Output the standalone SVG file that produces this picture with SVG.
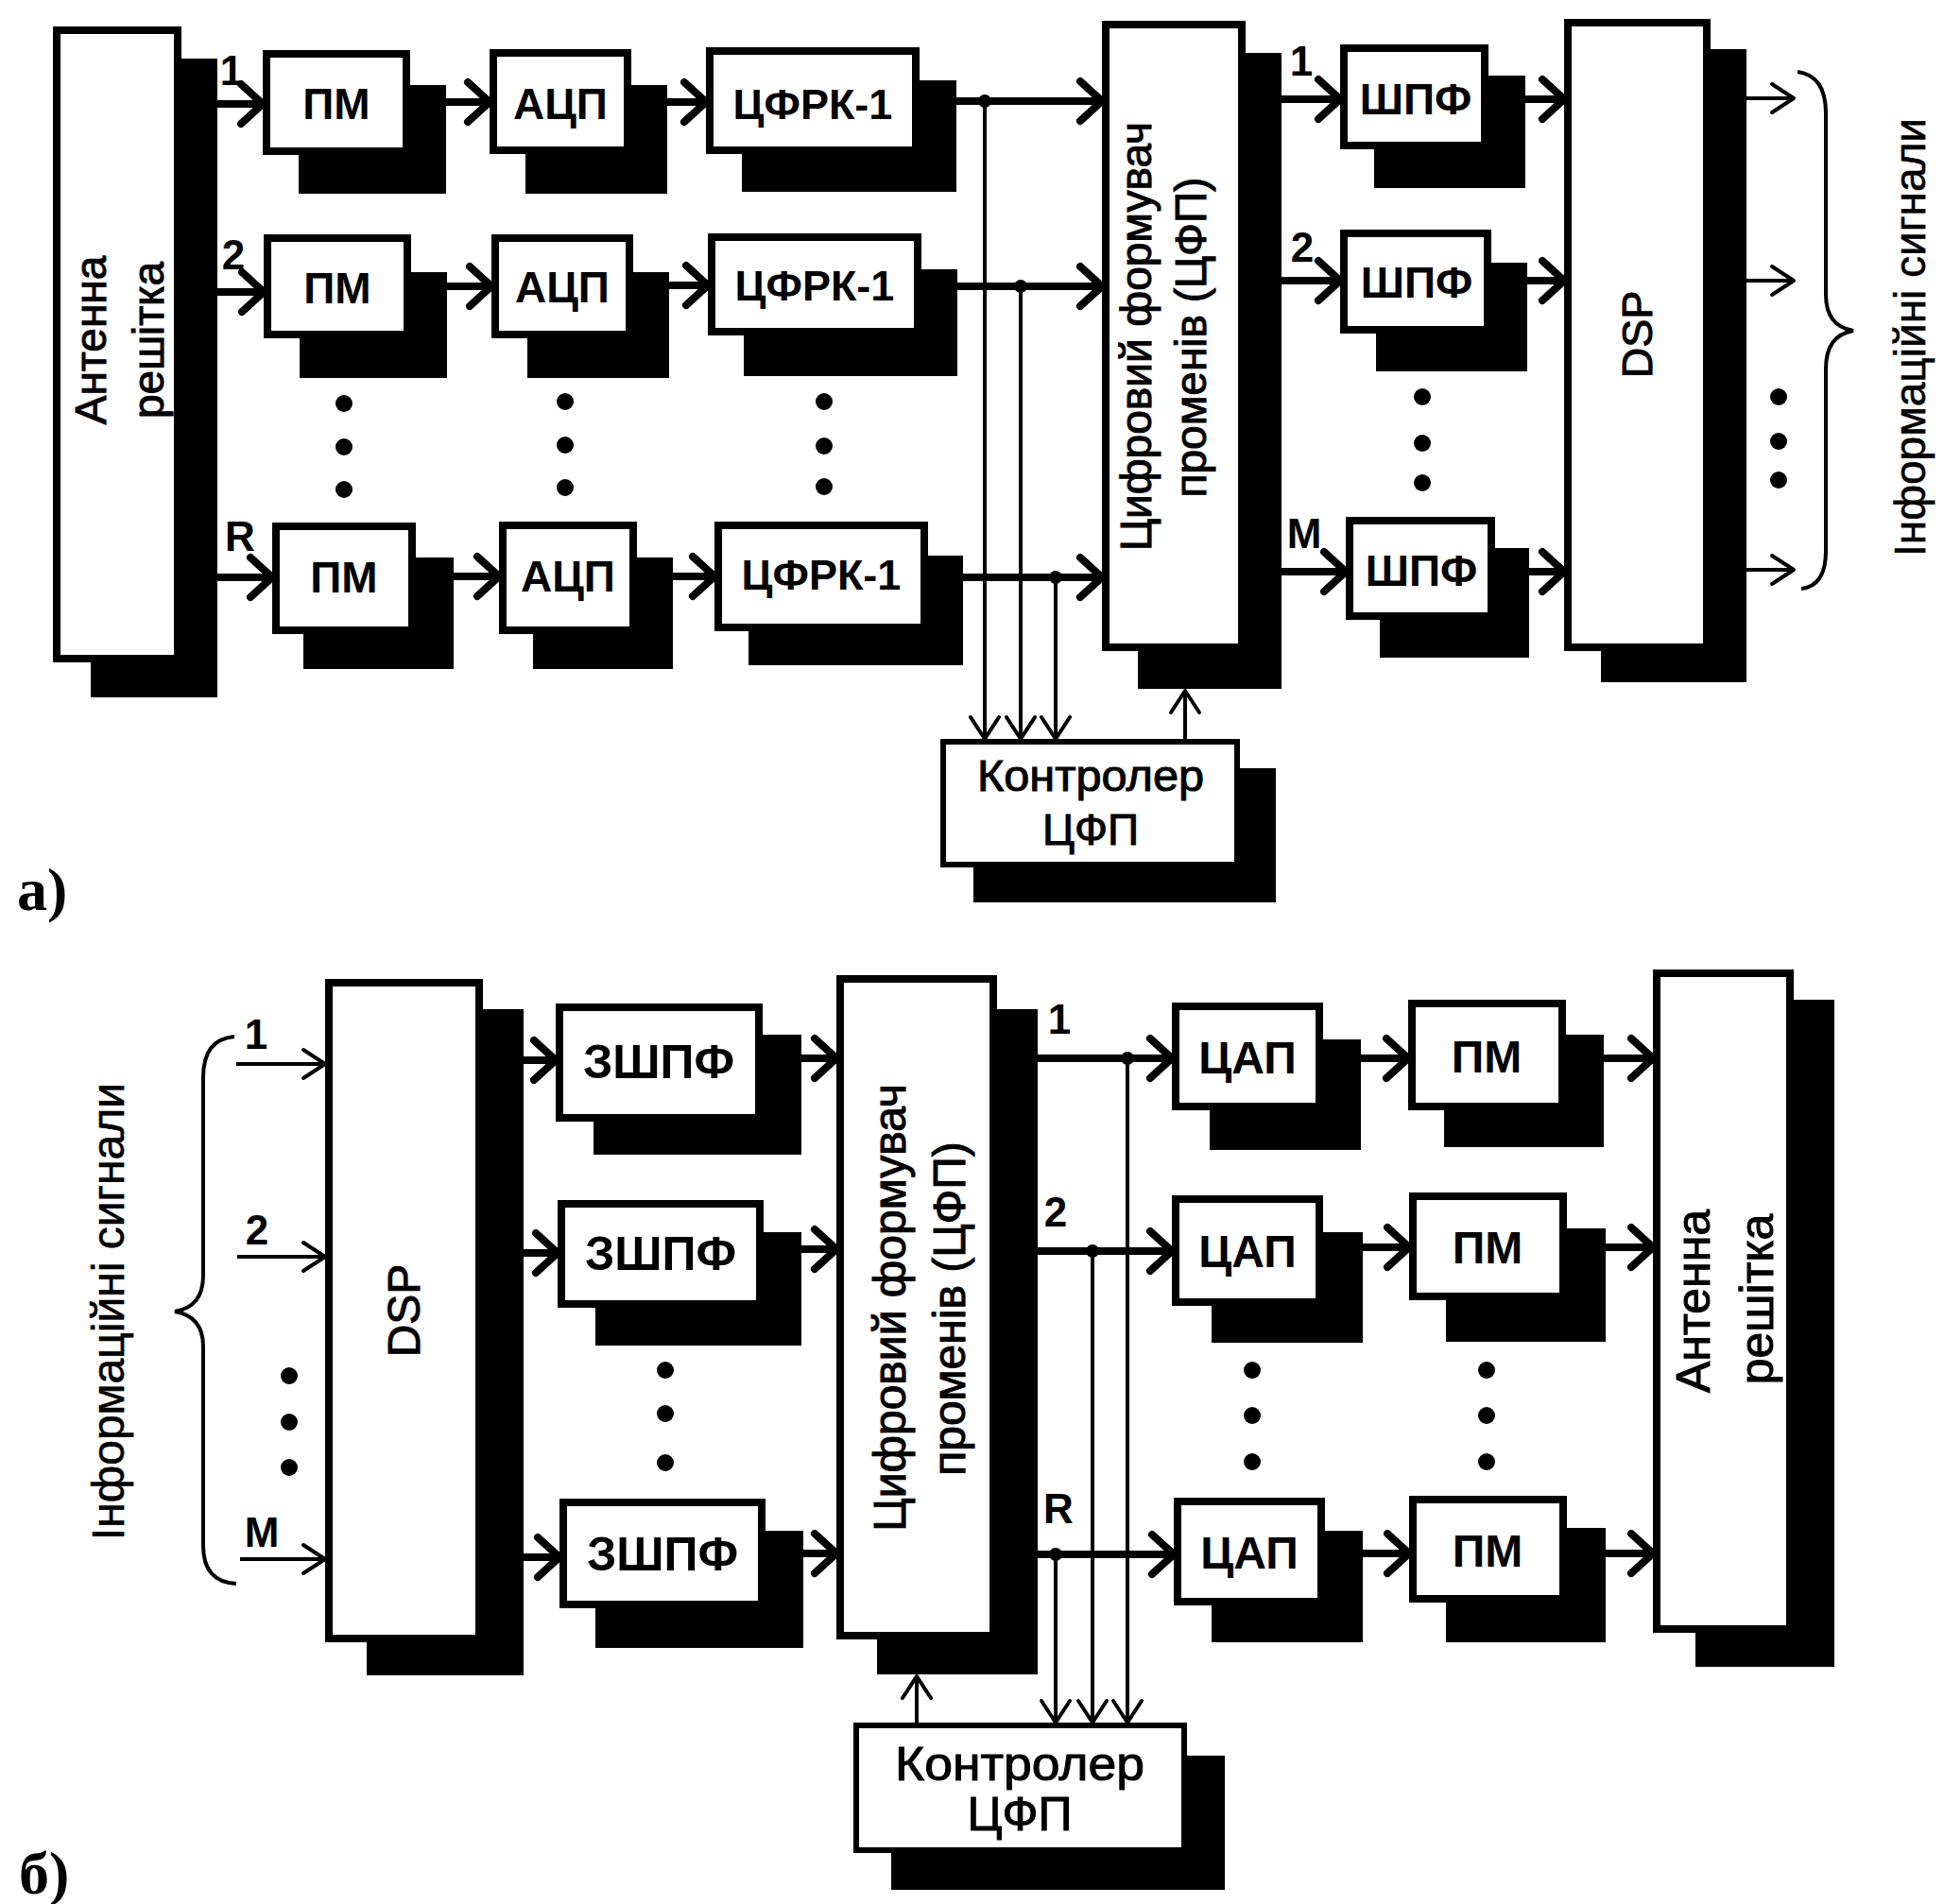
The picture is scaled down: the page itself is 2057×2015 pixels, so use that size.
<svg xmlns="http://www.w3.org/2000/svg" width="2057" height="2015" viewBox="0 0 2057 2015">
<defs>
<style>
.box{fill:#fff;stroke:#000;stroke-width:8}
.cbox{fill:#fff;stroke:#000;stroke-width:6}
.sh{fill:#000}
.thick{stroke:#000;stroke-width:8;fill:none}
.thin{stroke:#000;stroke-width:4;fill:none}
.brace{stroke:#000;stroke-width:4;fill:none}
.dot{fill:#000}
text{font-family:"Liberation Sans",Arial,sans-serif;fill:#000}
.b45{font-size:45px;font-weight:bold;text-anchor:middle}
.b46{font-size:46px;font-weight:bold;text-anchor:middle}
.b48{font-size:48px;font-weight:bold;text-anchor:middle}
.b50{font-size:50px;font-weight:bold;text-anchor:middle}
.n46{font-size:46px;text-anchor:middle;stroke:#000;stroke-width:1}
.n48{font-size:48px;text-anchor:middle;stroke:#000;stroke-width:1}
.n44{font-size:44px;text-anchor:middle;stroke:#000;stroke-width:1}
.num{font-size:44px;font-weight:bold;text-anchor:middle}
.fig{font-family:"Liberation Serif","Times New Roman",serif;font-size:64px;font-weight:bold}
</style>
<marker id="ah" markerUnits="userSpaceOnUse" markerWidth="50" markerHeight="60" viewBox="-40 -30 50 60" refX="0" refY="0" orient="auto" overflow="visible">
<path d="M-23,-21 L0,0 L-23,21" fill="none" stroke="#000" stroke-width="8" stroke-linejoin="round" stroke-linecap="round"/>
</marker>
<marker id="at" markerUnits="userSpaceOnUse" markerWidth="50" markerHeight="40" viewBox="-40 -20 50 40" refX="0" refY="0" orient="auto" overflow="visible">
<path d="M-23,-15 L0,0 L-23,15" fill="none" stroke="#000" stroke-width="4" stroke-linejoin="round" stroke-linecap="round"/>
</marker>
</defs>
<rect width="2057" height="2015" fill="#fff"/>

<!-- ===== Part a) ===== -->
<g id="a-antenna">
<rect class="sh" x="96" y="62" width="134" height="676"/>
<rect class="box" x="60" y="32" width="128" height="665"/>
<text class="n46" transform="translate(0,360) rotate(-90)" x="0" y="112">Антенна</text>
<text class="n46" transform="translate(0,360) rotate(-90)" x="0" y="173">решітка</text>
</g>
<g id="a-pm1"><rect class="sh" x="316" y="90" width="156" height="115"/><rect class="box" x="282" y="57" width="148" height="103"/><text class="b46" x="356" y="126">ПМ</text></g>
<g id="a-adc1"><rect class="sh" x="556" y="90" width="150" height="115"/><rect class="box" x="522" y="56" width="142" height="103"/><text class="b46" x="593" y="126">АЦП</text></g>
<g id="a-cfrk1"><rect class="sh" x="785" y="85" width="227" height="118"/><rect class="box" x="751" y="54" width="218" height="105"/><text class="b45" x="860" y="126">ЦФРК-1</text></g>
<g id="a-pm2"><rect class="sh" x="317" y="288" width="156" height="112"/><rect class="box" x="283" y="252" width="148" height="102"/><text class="b46" x="357" y="321">ПМ</text></g>
<g id="a-adc2"><rect class="sh" x="558" y="288" width="150" height="112"/><rect class="box" x="524" y="252" width="142" height="102"/><text class="b46" x="595" y="320">АЦП</text></g>
<g id="a-cfrk2"><rect class="sh" x="787" y="285" width="226" height="113"/><rect class="box" x="753" y="251" width="218" height="100"/><text class="b45" x="862" y="318">ЦФРК-1</text></g>
<g id="a-pmR"><rect class="sh" x="321" y="590" width="159" height="118"/><rect class="box" x="292" y="557" width="144" height="110"/><text class="b46" x="364" y="627">ПМ</text></g>
<g id="a-adcR"><rect class="sh" x="564" y="590" width="148" height="118"/><rect class="box" x="532" y="556" width="138" height="111"/><text class="b46" x="601" y="626">АЦП</text></g>
<g id="a-cfrkR"><rect class="sh" x="792" y="588" width="227" height="116"/><rect class="box" x="760" y="556" width="218" height="108"/><text class="b45" x="869" y="624">ЦФРК-1</text></g>

<g id="a-dfp">
<rect class="sh" x="1204" y="56" width="152" height="673"/>
<rect class="box" x="1170" y="26" width="144" height="659"/>
<text class="n46" transform="translate(0,356) rotate(-90)" x="0" y="1218">Цифровий формувач</text>
<text class="n46" transform="translate(0,357) rotate(-90)" x="0" y="1276">променів (ЦФП)</text>
</g>
<g id="a-shpf1"><rect class="sh" x="1454" y="80" width="160" height="119"/><rect class="box" x="1422" y="51" width="149" height="103"/><text class="b46" x="1498" y="121">ШПФ</text></g>
<g id="a-shpf2"><rect class="sh" x="1456" y="278" width="160" height="115"/><rect class="box" x="1422" y="247" width="152" height="102"/><text class="b46" x="1499" y="315">ШПФ</text></g>
<g id="a-shpfM"><rect class="sh" x="1460" y="580" width="158" height="116"/><rect class="box" x="1428" y="551" width="150" height="101"/><text class="b46" x="1504" y="620">ШПФ</text></g>
<g id="a-dsp">
<rect class="sh" x="1694" y="52" width="154" height="670"/>
<rect class="box" x="1659" y="24" width="147" height="661"/>
<text class="n46" transform="translate(0,354) rotate(-90)" x="0" y="1748" style="font-size:45px">DSP</text>
</g>
<g id="a-ctrl">
<rect class="sh" x="1030" y="813" width="320" height="142"/>
<rect class="cbox" x="998" y="785" width="311" height="130"/>
<text class="n46" x="1154" y="837" textLength="240" lengthAdjust="spacingAndGlyphs">Контролер</text>
<text class="n46" x="1154" y="894">ЦФП</text>
</g>
<g id="a-dots">
<circle class="dot" cx="364" cy="427" r="9"/><circle class="dot" cx="364" cy="473" r="9"/><circle class="dot" cx="364" cy="518" r="9"/>
<circle class="dot" cx="598" cy="425" r="9"/><circle class="dot" cx="598" cy="471" r="9"/><circle class="dot" cx="598" cy="516" r="9"/>
<circle class="dot" cx="872" cy="425" r="9"/><circle class="dot" cx="872" cy="472" r="9"/><circle class="dot" cx="872" cy="515" r="9"/>
<circle class="dot" cx="1505" cy="420" r="9"/><circle class="dot" cx="1505" cy="469" r="9"/><circle class="dot" cx="1505" cy="511" r="9"/>
<circle class="dot" cx="1882" cy="420" r="9"/><circle class="dot" cx="1882" cy="467" r="9"/><circle class="dot" cx="1882" cy="508" r="9"/>
</g>
<g id="a-labels">
<text class="num" x="245" y="90">1</text>
<text class="num" x="247" y="285">2</text>
<text class="num" x="254" y="583">R</text>
<text class="num" x="1377" y="80">1</text>
<text class="num" x="1378" y="277">2</text>
<text class="num" x="1380" y="580">M</text>
<text class="n46" transform="translate(0,357) rotate(-90)" x="0" y="2037" style="stroke-width:0.6">Інформаційні сигнали</text>
<text class="fig" x="18" y="963">a)</text>
</g>
<g id="a-connectors">
<line class="thick" x1="230" y1="110" x2="278" y2="110" marker-end="url(#ah)"/>
<line class="thick" x1="472" y1="108" x2="518" y2="108" marker-end="url(#ah)"/>
<line class="thick" x1="706" y1="108" x2="747" y2="108" marker-end="url(#ah)"/>
<line class="thick" x1="1012" y1="107" x2="1166" y2="107" marker-end="url(#ah)"/>
<line class="thick" x1="1356" y1="105" x2="1418" y2="105" marker-end="url(#ah)"/>
<line class="thick" x1="1614" y1="105" x2="1655" y2="105" marker-end="url(#ah)"/>
<line class="thin" x1="1848" y1="104" x2="1898" y2="104" marker-end="url(#at)"/>
<line class="thick" x1="230" y1="309" x2="279" y2="309" marker-end="url(#ah)"/>
<line class="thick" x1="473" y1="303" x2="520" y2="303" marker-end="url(#ah)"/>
<line class="thick" x1="708" y1="302" x2="749" y2="302" marker-end="url(#ah)"/>
<line class="thick" x1="1013" y1="303" x2="1166" y2="303" marker-end="url(#ah)"/>
<line class="thick" x1="1356" y1="297" x2="1418" y2="297" marker-end="url(#ah)"/>
<line class="thick" x1="1616" y1="297" x2="1655" y2="297" marker-end="url(#ah)"/>
<line class="thin" x1="1848" y1="297" x2="1898" y2="297" marker-end="url(#at)"/>
<line class="thick" x1="230" y1="611" x2="288" y2="611" marker-end="url(#ah)"/>
<line class="thick" x1="480" y1="610" x2="528" y2="610" marker-end="url(#ah)"/>
<line class="thick" x1="712" y1="610" x2="756" y2="610" marker-end="url(#ah)"/>
<line class="thick" x1="1019" y1="611" x2="1166" y2="611" marker-end="url(#ah)"/>
<line class="thick" x1="1356" y1="605" x2="1424" y2="605" marker-end="url(#ah)"/>
<line class="thick" x1="1618" y1="605" x2="1655" y2="605" marker-end="url(#ah)"/>
<line class="thin" x1="1848" y1="603" x2="1898" y2="603" marker-end="url(#at)"/>
<line class="thin" x1="1042" y1="107" x2="1042" y2="782" marker-end="url(#at)"/>
<line class="thin" x1="1080" y1="303" x2="1080" y2="782" marker-end="url(#at)"/>
<line class="thin" x1="1117" y1="611" x2="1117" y2="782" marker-end="url(#at)"/>
<line class="thin" x1="1254" y1="782" x2="1254" y2="731" marker-end="url(#at)"/>
<circle class="dot" cx="1042" cy="107" r="7"/>
<circle class="dot" cx="1080" cy="303" r="7"/>
<circle class="dot" cx="1117" cy="611" r="7"/>
<path class="brace" d="M1902,76 Q1932,80 1932,120 L1932,312 Q1932,345 1961,350 Q1932,355 1932,390 L1932,583 Q1932,620 1906,623"/>
</g>

<!-- ===== Part b) ===== -->
<g id="b-dsp">
<rect class="sh" x="388" y="1068" width="166" height="705"/>
<rect class="box" x="348" y="1040" width="159" height="694"/>
<text class="n48" transform="translate(0,1387) rotate(-90)" x="0" y="444">DSP</text>
</g>
<g id="b-zshpf1"><rect class="sh" x="628" y="1095" width="220" height="127"/><rect class="box" x="592" y="1066" width="211" height="117"/><text class="b50" x="697" y="1141">ЗШПФ</text></g>
<g id="b-zshpf2"><rect class="sh" x="630" y="1304" width="218" height="120"/><rect class="box" x="594" y="1274" width="210" height="106"/><text class="b50" x="699" y="1344">ЗШПФ</text></g>
<g id="b-zshpfM"><rect class="sh" x="630" y="1620" width="220" height="124"/><rect class="box" x="596" y="1590" width="210" height="108"/><text class="b50" x="701" y="1662">ЗШПФ</text></g>
<g id="b-dfp">
<rect class="sh" x="928" y="1068" width="170" height="704"/>
<rect class="box" x="889" y="1036" width="162" height="695"/>
<text class="n48" transform="translate(0,1384) rotate(-90)" x="0" y="958">Цифровий формувач</text>
<text class="n48" transform="translate(0,1385) rotate(-90)" x="0" y="1021">променів (ЦФП)</text>
</g>
<g id="b-dac1"><rect class="sh" x="1280" y="1100" width="160" height="117"/><rect class="box" x="1244" y="1065" width="152" height="106"/><text class="b48" x="1320" y="1136">ЦАП</text></g>
<g id="b-dac2"><rect class="sh" x="1282" y="1304" width="160" height="117"/><rect class="box" x="1244" y="1269" width="152" height="109"/><text class="b48" x="1320" y="1341">ЦАП</text></g>
<g id="b-dacR"><rect class="sh" x="1282" y="1620" width="160" height="118"/><rect class="box" x="1246" y="1589" width="152" height="106"/><text class="b48" x="1322" y="1660">ЦАП</text></g>
<g id="b-pm1"><rect class="sh" x="1528" y="1095" width="169" height="119"/><rect class="box" x="1494" y="1062" width="159" height="109"/><text class="b48" x="1573" y="1135">ПМ</text></g>
<g id="b-pm2"><rect class="sh" x="1530" y="1300" width="169" height="120"/><rect class="box" x="1495" y="1266" width="159" height="106"/><text class="b48" x="1574" y="1337">ПМ</text></g>
<g id="b-pmR"><rect class="sh" x="1530" y="1617" width="169" height="121"/><rect class="box" x="1495" y="1587" width="159" height="105"/><text class="b48" x="1574" y="1658">ПМ</text></g>
<g id="b-antenna">
<rect class="sh" x="1794" y="1058" width="147" height="706"/>
<rect class="box" x="1753" y="1030" width="141" height="694"/>
<text class="n48" transform="translate(0,1377) rotate(-90)" x="0" y="1809" style="font-size:50px">Антенна</text>
<text class="n48" transform="translate(0,1375) rotate(-90)" x="0" y="1876" style="font-size:50px">решітка</text>
</g>
<g id="b-ctrl">
<rect class="sh" x="943" y="1858" width="353" height="142"/>
<rect class="cbox" x="906" y="1826" width="347" height="132"/>
<text class="n48" x="1079" y="1884" style="font-size:50px" textLength="264" lengthAdjust="spacingAndGlyphs">Контролер</text>
<text class="n48" x="1079" y="1937" style="font-size:50px">ЦФП</text>
</g>
<g id="b-dots">
<circle class="dot" cx="306" cy="1456" r="9"/><circle class="dot" cx="306" cy="1505" r="9"/><circle class="dot" cx="306" cy="1553" r="9"/>
<circle class="dot" cx="704" cy="1450" r="9"/><circle class="dot" cx="704" cy="1496" r="9"/><circle class="dot" cx="704" cy="1548" r="9"/>
<circle class="dot" cx="1325" cy="1450" r="9"/><circle class="dot" cx="1325" cy="1498" r="9"/><circle class="dot" cx="1325" cy="1547" r="9"/>
<circle class="dot" cx="1573" cy="1450" r="9"/><circle class="dot" cx="1573" cy="1498" r="9"/><circle class="dot" cx="1573" cy="1547" r="9"/>
</g>
<g id="b-labels">
<text class="num" x="271" y="1110">1</text>
<text class="num" x="272" y="1317">2</text>
<text class="num" x="277" y="1637">M</text>
<text class="num" x="1121" y="1094">1</text>
<text class="num" x="1117" y="1298">2</text>
<text class="num" x="1120" y="1612">R</text>
<text class="n48" transform="translate(0,1388) rotate(-90)" x="0" y="131" style="stroke-width:0.6">Інформаційні сигнали</text>
<text class="fig" x="20" y="2004">б)</text>
</g>
<g id="b-connectors">
<line class="thin" x1="250" y1="1126" x2="344" y2="1126" marker-end="url(#at)"/>
<line class="thin" x1="251" y1="1330" x2="344" y2="1330" marker-end="url(#at)"/>
<line class="thin" x1="254" y1="1650" x2="344" y2="1650" marker-end="url(#at)"/>
<line class="thick" x1="554" y1="1122" x2="588" y2="1122" marker-end="url(#ah)"/>
<line class="thick" x1="554" y1="1326" x2="590" y2="1326" marker-end="url(#ah)"/>
<line class="thick" x1="554" y1="1648" x2="592" y2="1648" marker-end="url(#ah)"/>
<line class="thick" x1="848" y1="1120" x2="885" y2="1120" marker-end="url(#ah)"/>
<line class="thick" x1="848" y1="1322" x2="885" y2="1322" marker-end="url(#ah)"/>
<line class="thick" x1="850" y1="1644" x2="885" y2="1644" marker-end="url(#ah)"/>
<line class="thick" x1="1098" y1="1120" x2="1240" y2="1120" marker-end="url(#ah)"/>
<line class="thick" x1="1098" y1="1324" x2="1240" y2="1324" marker-end="url(#ah)"/>
<line class="thick" x1="1098" y1="1645" x2="1242" y2="1645" marker-end="url(#ah)"/>
<line class="thick" x1="1440" y1="1120" x2="1490" y2="1120" marker-end="url(#ah)"/>
<line class="thick" x1="1442" y1="1320" x2="1491" y2="1320" marker-end="url(#ah)"/>
<line class="thick" x1="1442" y1="1644" x2="1491" y2="1644" marker-end="url(#ah)"/>
<line class="thick" x1="1697" y1="1120" x2="1749" y2="1120" marker-end="url(#ah)"/>
<line class="thick" x1="1699" y1="1320" x2="1749" y2="1320" marker-end="url(#ah)"/>
<line class="thick" x1="1699" y1="1644" x2="1749" y2="1644" marker-end="url(#ah)"/>
<line class="thin" x1="1117" y1="1645" x2="1117" y2="1823" marker-end="url(#at)"/>
<line class="thin" x1="1156" y1="1324" x2="1156" y2="1823" marker-end="url(#at)"/>
<line class="thin" x1="1193" y1="1120" x2="1193" y2="1823" marker-end="url(#at)"/>
<line class="thin" x1="970" y1="1823" x2="970" y2="1774" marker-end="url(#at)"/>
<circle class="dot" cx="1193" cy="1120" r="7"/>
<circle class="dot" cx="1156" cy="1324" r="7"/>
<circle class="dot" cx="1117" cy="1645" r="7"/>
<path class="brace" d="M248,1097 Q215,1100 215,1140 L215,1350 Q215,1383 185,1388 Q215,1393 215,1425 L215,1636 Q215,1674 250,1676"/>
</g>
</svg>
